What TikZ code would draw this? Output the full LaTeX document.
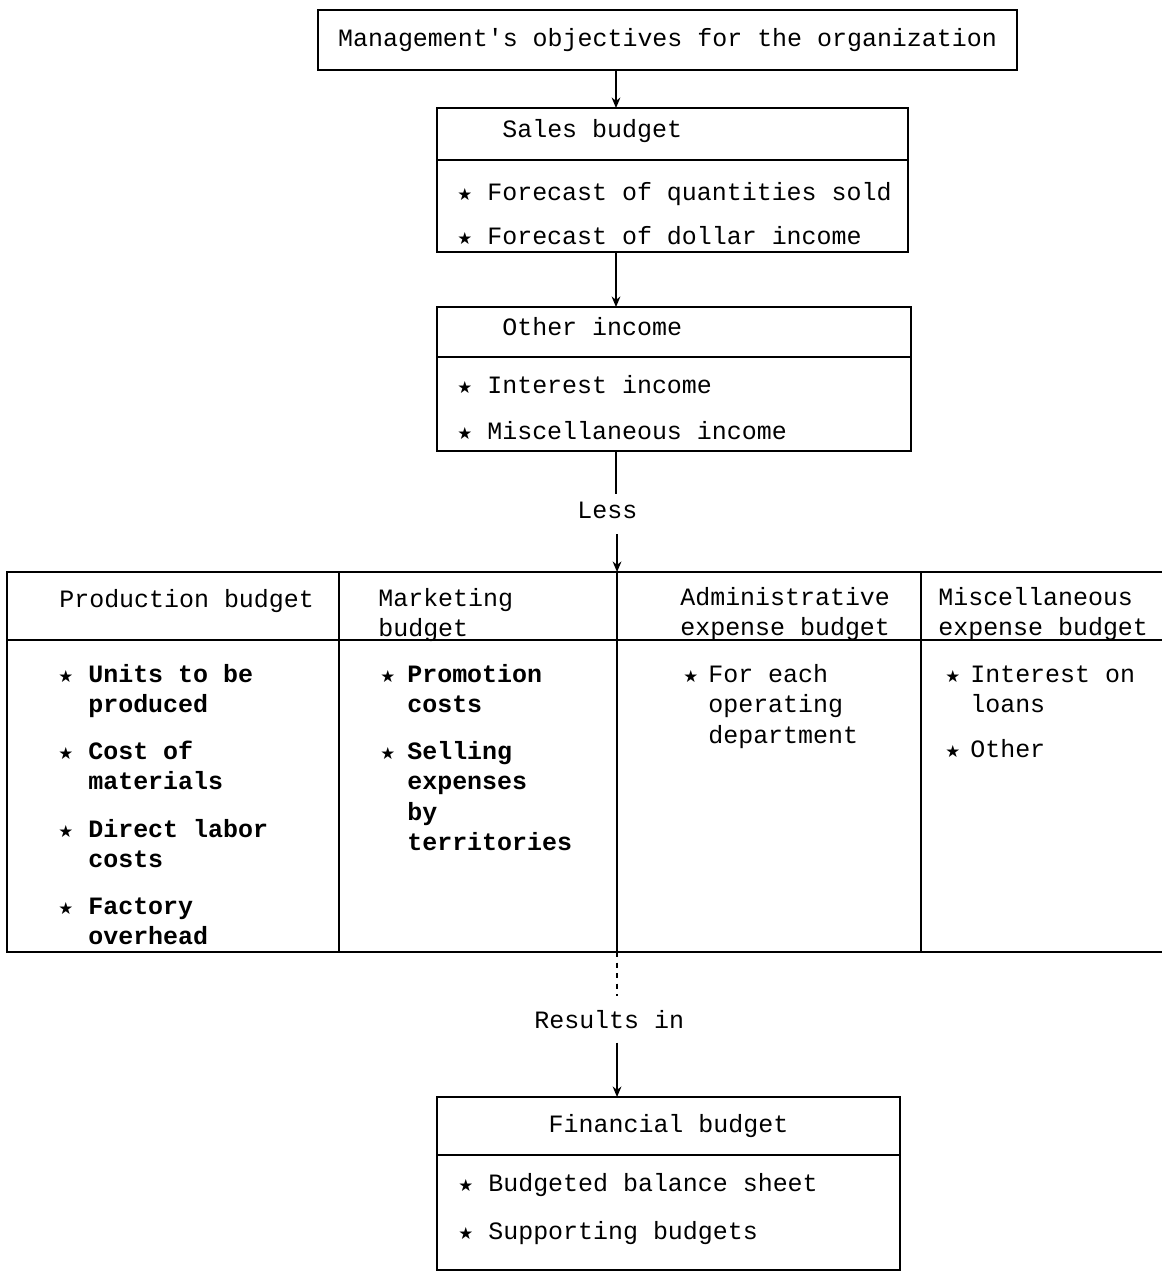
\documentclass[tikz,border=0pt]{standalone}
\usepackage{fontspec}
\setmainfont{Liberation Mono}
\newfontfamily\starfont{DejaVu Sans}
\usetikzlibrary{arrows.meta}
\tikzset{
	boxA/.style={
		draw, line width=1pt, inner sep=0pt, outer sep=0pt,
		font={\fontsize{14.2}{17.4}\selectfont}
	},
	txtA/.style={
		anchor=base west, inner sep=0pt,
		font={\fontsize{14.2}{17.4}\selectfont}
	},
	starA/.style={
		anchor=base west, inner sep=0pt,
		font={\starfont\fontsize{9.5}{9.5}\selectfont}
	},
	linkA/.style={line width=0.8pt},
	>={Stealth[length=6pt,width=5pt]},
}
% lines of text, baseline on the first one
\newcommand{\stack}[1]{\begin{tabular}[t]{@{}l@{}}#1\end{tabular}}
% item with its star: name, star x, text x, baseline y, text
\newcommand{\itm}[5]{%
	\node[starA] (#1s) at (#2,#4) {★};
	\node[txtA] (#1) at (#3,#4) {\stack{#5}};
}

\begin{document}
\begin{tikzpicture}[x=0.02cm, y=-0.02cm]
\useasboundingbox (0,0) rectangle (1161,1274);
\coordinate (spine) at (616,0);

% objectives
\node[boxA, minimum width=13.98cm, minimum height=1.2cm] (mgmt) at (667.5,40)
	{Management\textquotesingle s objectives for the organization};

% sales budget
\node[boxA, minimum width=9.42cm, minimum height=1.04cm] (salesT) at (672.5,134) {};
\node[boxA, minimum width=9.42cm, minimum height=1.84cm] (salesB) at (672.5,206) {};
\node[txtA] (salesL) at (502,137) {Sales budget};
\itm{sales1}{457}{487}{200}{Forecast of quantities sold}
\itm{sales2}{457}{487}{244}{Forecast of dollar income}

% other income
\node[boxA, minimum width=9.48cm, minimum height=1.0cm] (otherT) at (674,332) {};
\node[boxA, minimum width=9.48cm, minimum height=1.88cm] (otherB) at (674,404) {};
\node[txtA] (otherL) at (502,335) {Other income};
\itm{other1}{457}{487}{393}{Interest income}
\itm{other2}{457}{487}{439}{Miscellaneous income}

\node[txtA] (less) at (577,518) {Less};

% expense budgets
\node[boxA, minimum width=6.64cm, minimum height=1.36cm] (prodH) at (173,606) {};
\node[boxA, minimum width=6.64cm, minimum height=6.24cm] (prodB) at (173,796) {};
\node[boxA, minimum width=5.56cm, minimum height=1.36cm] (mktH) at (478,606) {};
\node[boxA, minimum width=5.56cm, minimum height=6.24cm] (mktB) at (478,796) {};
\node[boxA, minimum width=6.08cm, minimum height=1.36cm] (admH) at (769,606) {};
\node[boxA, minimum width=6.08cm, minimum height=6.24cm] (admB) at (769,796) {};
\node[boxA, minimum width=4.98cm, minimum height=1.36cm] (miscH) at (1045.5,606) {};
\node[boxA, minimum width=4.98cm, minimum height=6.24cm] (miscB) at (1045.5,796) {};

\node[txtA] (prodL) at (59,607) {Production budget};
\node[txtA] (mktL) at (378,606) {\stack{Marketing\\budget}};
\node[txtA] (admL) at (680,605) {\stack{Administrative\\expense budget}};
\node[txtA] (miscL) at (938,605) {\stack{Miscellaneous\\expense budget}};

\itm{prod1}{58}{88}{682}{\bfseries Units to be\\\bfseries produced}
\itm{prod2}{58}{88}{759}{\bfseries Cost of\\\bfseries materials}
\itm{prod3}{58}{88}{837}{\bfseries Direct labor\\\bfseries costs}
\itm{prod4}{58}{88}{914}{\bfseries Factory\\\bfseries overhead}
\itm{mkt1}{380}{407}{682}{\bfseries Promotion\\\bfseries costs}
\itm{mkt2}{380}{407}{759}{\bfseries Selling\\\bfseries expenses\\\bfseries by\\\bfseries territories}
\itm{adm1}{683}{708}{682}{For each\\operating\\department}
\itm{misc1}{945}{970}{682}{Interest on\\loans}
\itm{misc2}{945}{970}{757}{Other}

\node[txtA] (results) at (534,1028) {Results in};

% financial budget
\node[boxA, minimum width=9.26cm, minimum height=1.16cm] (finT) at (668.5,1126)
	{Financial budget};
\node[boxA, minimum width=9.26cm, minimum height=2.3cm] (finB) at (668.5,1212.5) {};
\itm{fin1}{458}{488}{1191}{Budgeted balance sheet}
\itm{fin2}{458}{488}{1239}{Supporting budgets}

% links
\draw[linkA, ->] (mgmt.south -| spine) -- (salesT.north -| spine);
\draw[linkA, ->] (salesB.south -| spine) -- (otherT.north -| spine);
\draw[linkA] (otherB.south -| spine) -- ([yshift=4pt]less.north -| spine);
\draw[linkA, ->] ([yshift=-9pt]less.south -| admH.west) -- (admH.north west);
\draw[linkA, dashed] (admB.south west) -- ([yshift=8pt]results.north -| admB.west);
\draw[linkA, ->] ([yshift=-8pt]results.south -| admB.west) -- (finT.north -| admB.west);
\end{tikzpicture}
\end{document}
